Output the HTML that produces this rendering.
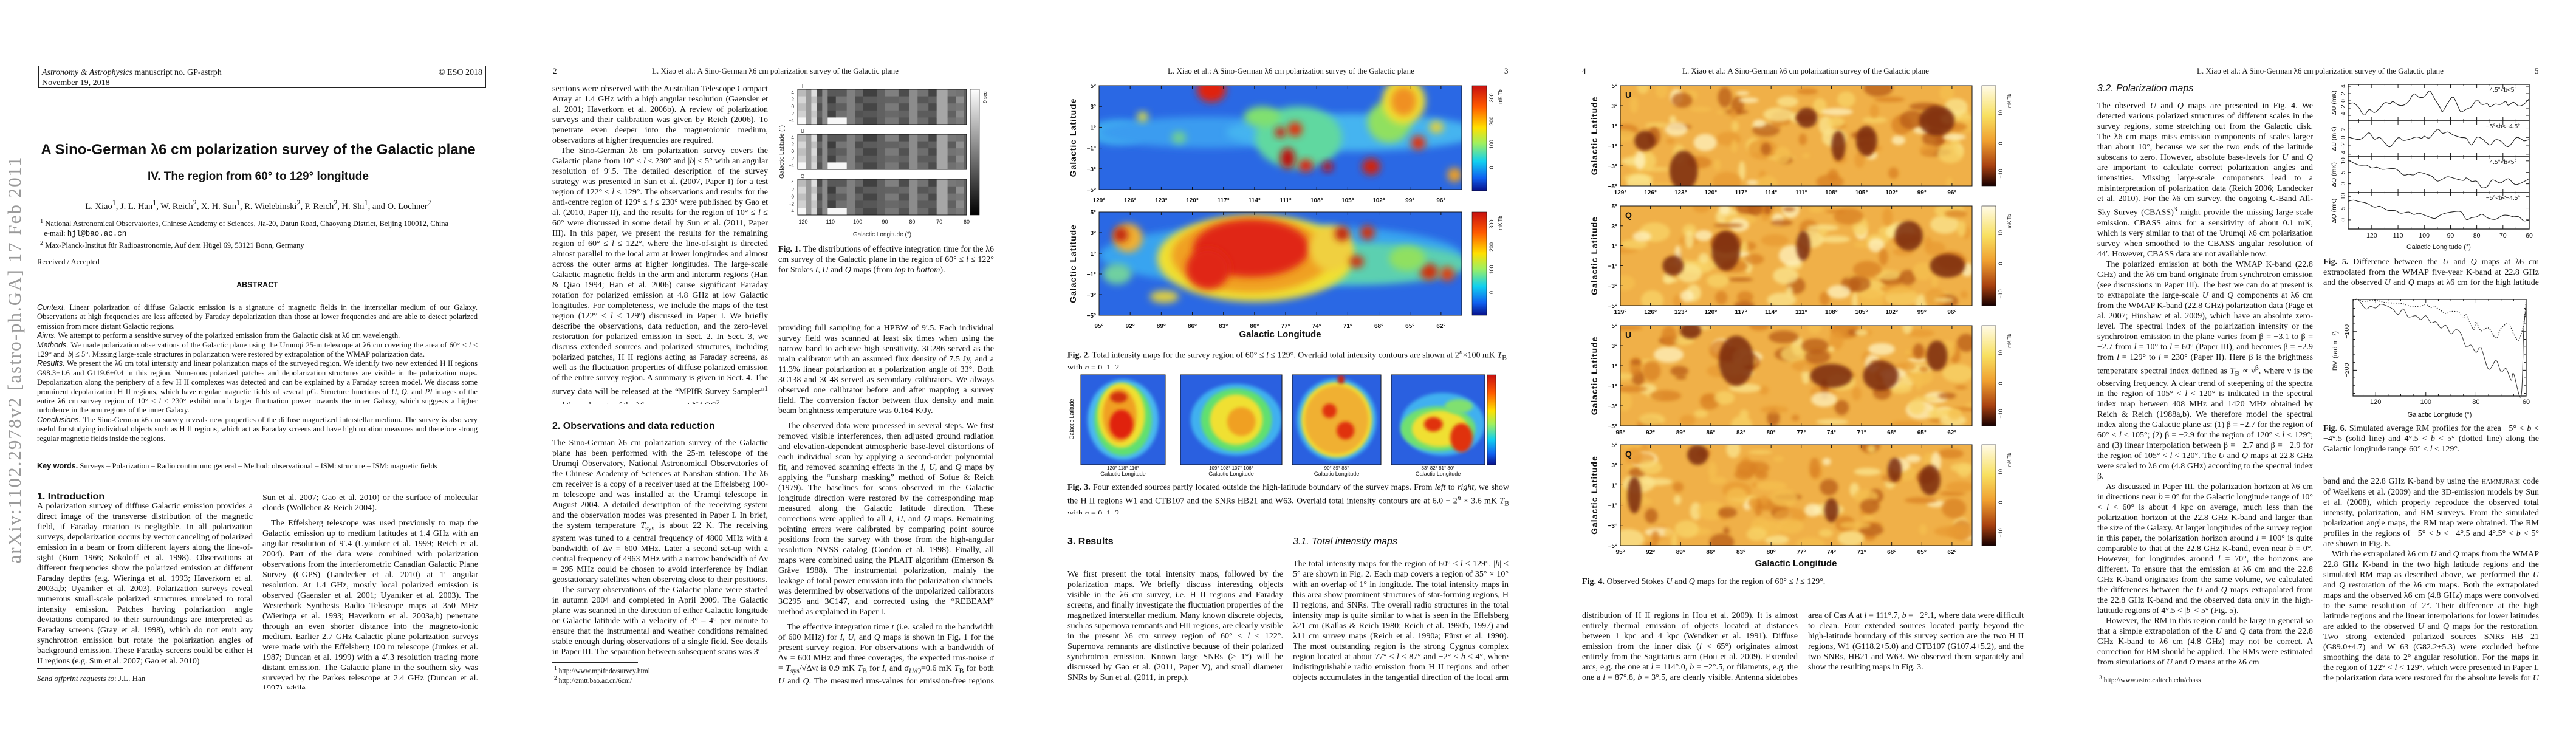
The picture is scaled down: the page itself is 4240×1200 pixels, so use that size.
<!DOCTYPE html>
<html><head><meta charset="utf-8">
<style>
html,body{margin:0;padding:0;background:#fff;}
body{width:4240px;height:1200px;position:relative;overflow:hidden;font-family:"Liberation Serif",serif;color:#111;}
.a{position:absolute;}
.col{position:absolute;font-size:14px;line-height:17px;text-align:justify;overflow:hidden;font-family:"Liberation Serif",serif;}
.col p{margin:0;text-indent:14px;}
.col p.ni{text-indent:0;}
.abs{position:absolute;font-size:12.6px;line-height:15.4px;text-align:justify;overflow:hidden;}
.abs p{margin:0;}
.run{position:absolute;font-size:13px;white-space:nowrap;}
.h1{position:absolute;font-family:"Liberation Sans",sans-serif;font-weight:bold;font-size:16px;white-space:nowrap;}
.h2{position:absolute;font-family:"Liberation Sans",sans-serif;font-style:italic;font-size:16px;white-space:nowrap;}
.cap{position:absolute;font-size:14px;line-height:17px;text-align:justify;overflow:hidden;}
.fn{position:absolute;font-size:11.5px;white-space:nowrap;}
.rule{position:absolute;height:1px;background:#222;}
svg text{font-family:"Liberation Sans",sans-serif;}
</style></head><body>
<svg id="gfx" class="a" style="left:0;top:0" width="4240" height="1200">
<defs>
<filter id="b3" x="-50%" y="-50%" width="200%" height="200%"><feGaussianBlur stdDeviation="3"/></filter>
<filter id="b6" x="-50%" y="-50%" width="200%" height="200%"><feGaussianBlur stdDeviation="6"/></filter>
<filter id="b10" x="-50%" y="-50%" width="200%" height="200%"><feGaussianBlur stdDeviation="10"/></filter>
<linearGradient id="jet" x1="0" y1="0" x2="0" y2="1">
<stop offset="0" stop-color="#c81010"/><stop offset="0.2" stop-color="#ff5a00"/><stop offset="0.4" stop-color="#ffe000"/><stop offset="0.55" stop-color="#9ef060"/><stop offset="0.72" stop-color="#10d0f0"/><stop offset="0.88" stop-color="#1060f0"/><stop offset="1" stop-color="#08108a"/></linearGradient>
<linearGradient id="heat" x1="0" y1="0" x2="0" y2="1">
<stop offset="0" stop-color="#fffbe8"/><stop offset="0.3" stop-color="#f8e060"/><stop offset="0.55" stop-color="#f0a030"/><stop offset="0.8" stop-color="#a84010"/><stop offset="1" stop-color="#180000"/></linearGradient>
<linearGradient id="gray" x1="0" y1="0" x2="0" y2="1"><stop offset="0" stop-color="#ffffff"/><stop offset="1" stop-color="#000000"/></linearGradient>
</defs>
</svg>

<!-- ================= PAGE 1 ================= -->
<div class="a" style="left:63px;top:108px;width:737px;height:37px;border:1px solid #222;font-size:14px;line-height:17px;padding:2px 5px;box-sizing:border-box;">
<div><i>Astronomy &amp; Astrophysics</i> manuscript no. GP-astrph<span style="float:right">© ESO 2018</span></div>
<div>November 19, 2018</div>
</div>
<div class="a" style="left:40px;top:233px;width:770px;text-align:center;font-family:'Liberation Sans',sans-serif;font-weight:bold;font-size:24px;white-space:nowrap;">A Sino-German λ6 cm polarization survey of the Galactic plane</div>
<div class="a" style="left:40px;top:280px;width:770px;text-align:center;font-family:'Liberation Sans',sans-serif;font-weight:bold;font-size:19px;white-space:nowrap;">IV. The region from 60° to 129° longitude</div>
<div class="a" style="left:40px;top:327px;width:770px;text-align:center;font-size:14.5px;white-space:nowrap;">L. Xiao<sup>1</sup>, J. L. Han<sup>1</sup>, W. Reich<sup>2</sup>, X. H. Sun<sup>1</sup>, R. Wielebinski<sup>2</sup>, P. Reich<sup>2</sup>, H. Shi<sup>1</sup>, and O. Lochner<sup>2</sup></div>
<div class="a" style="left:66px;top:357px;font-size:12.5px;line-height:15.5px;white-space:nowrap;">
<div><sup>1</sup> National Astronomical Observatories, Chinese Academy of Sciences, Jia-20, Datun Road, Chaoyang District, Beijing 100012, China</div>
<div>&nbsp;&nbsp;e-mail: <span style="font-family:'Liberation Mono',monospace">hjl@bao.ac.cn</span></div>
<div><sup>2</sup> Max-Planck-Institut für Radioastronomie, Auf dem Hügel 69, 53121 Bonn, Germany</div>
</div>
<div class="a" style="left:61px;top:424px;font-size:12.5px;">Received / Accepted</div>
<div class="a" style="left:61px;top:462px;width:725px;text-align:center;font-family:'Liberation Sans',sans-serif;font-weight:bold;font-size:12.5px;">ABSTRACT</div>
<div class="abs" style="left:61px;top:499px;width:725px;height:248px;">
<p><i style="font-family:'Liberation Sans',sans-serif">Context.</i> Linear polarization of diffuse Galactic emission is a signature of magnetic fields in the interstellar medium of our Galaxy. Observations at high frequencies are less affected by Faraday depolarization than those at lower frequencies and are able to detect polarized emission from more distant Galactic regions.</p>
<p><i style="font-family:'Liberation Sans',sans-serif">Aims.</i> We attempt to perform a sensitive survey of the polarized emission from the Galactic disk at λ6 cm wavelength.</p>
<p><i style="font-family:'Liberation Sans',sans-serif">Methods.</i> We made polarization observations of the Galactic plane using the Urumqi 25-m telescope at λ6 cm covering the area of 60° ≤ <i>l</i> ≤ 129° and |<i>b</i>| ≤ 5°. Missing large-scale structures in polarization were restored by extrapolation of the WMAP polarization data.</p>
<p><i style="font-family:'Liberation Sans',sans-serif">Results.</i> We present the λ6 cm total intensity and linear polarization maps of the surveyed region. We identify two new extended H II regions G98.3−1.6 and G119.6+0.4 in this region. Numerous polarized patches and depolarization structures are visible in the polarization maps. Depolarization along the periphery of a few H II complexes was detected and can be explained by a Faraday screen model. We discuss some prominent depolarization H II regions, which have regular magnetic fields of several μG. Structure functions of <i>U</i>, <i>Q</i>, and <i>PI</i> images of the entire λ6 cm survey region of 10° ≤ <i>l</i> ≤ 230° exhibit much larger fluctuation power towards the inner Galaxy, which suggests a higher turbulence in the arm regions of the inner Galaxy.</p>
<p><i style="font-family:'Liberation Sans',sans-serif">Conclusions.</i> The Sino-German λ6 cm survey reveals new properties of the diffuse magnetized interstellar medium. The survey is also very useful for studying individual objects such as H II regions, which act as Faraday screens and have high rotation measures and therefore strong regular magnetic fields inside the regions.</p>
</div>
<div class="a" style="left:61px;top:760px;font-size:12.6px;white-space:nowrap;"><b style="font-family:'Liberation Sans',sans-serif">Key words.</b> Surveys – Polarization – Radio continuum: general – Method: observational – ISM: structure – ISM: magnetic fields</div>
<div class="h1" style="left:61px;top:809px;">1. Introduction</div>
<div class="col" style="left:61px;top:825px;width:355px;height:272px;">
<p class="ni">A polarization survey of diffuse Galactic emission provides a direct image of the transverse distribution of the magnetic field, if Faraday rotation is negligible. In all polarization surveys, depolarization occurs by vector canceling of polarized emission in a beam or from different layers along the line-of-sight (Burn 1966; Sokoloff et al. 1998). Observations at different frequencies show the polarized emission at different Faraday depths (e.g. Wieringa et al. 1993; Haverkorn et al. 2003a,b; Uyanıker et al. 2003). Polarization surveys reveal numerous small-scale polarized structures unrelated to total intensity emission. Patches having polarization angle deviations compared to their surroundings are interpreted as Faraday screens (Gray et al. 1998), which do not emit any synchrotron emission but rotate the polarization angles of background emission. These Faraday screens could be either H II regions (e.g. Sun et al. 2007; Gao et al. 2010)</p>
</div>
<div class="rule" style="left:61px;top:1100px;width:141px;"></div>
<div class="a" style="left:61px;top:1109px;font-size:13px;"><i>Send offprint requests to</i>: J.L. Han</div>
<div class="col" style="left:432px;top:811px;width:355px;height:323px;">
<p class="ni">Sun et al. 2007; Gao et al. 2010) or the surface of molecular clouds (Wolleben &amp; Reich 2004).</p>
<p style="margin-top:8px">The Effelsberg telescope was used previously to map the Galactic emission up to medium latitudes at 1.4 GHz with an angular resolution of 9′.4 (Uyanıker et al. 1999; Reich et al. 2004). Part of the data were combined with polarization observations from the interferometric Canadian Galactic Plane Survey (CGPS) (Landecker et al. 2010) at 1′ angular resolution. At 1.4 GHz, mostly local polarized emission is observed (Gaensler et al. 2001; Uyanıker et al. 2003). The Westerbork Synthesis Radio Telescope maps at 350 MHz (Wieringa et al. 1993; Haverkorn et al. 2003a,b) penetrate through an even shorter distance into the magneto-ionic medium. Earlier 2.7 GHz Galactic plane polarization surveys were made with the Effelsberg 100 m telescope (Junkes et al. 1987; Duncan et al. 1999) with a 4′.3 resolution tracing more distant emission. The Galactic plane in the southern sky was surveyed by the Parkes telescope at 2.4 GHz (Duncan et al. 1997), while</p>
</div>
<div class="a" style="left:24px;top:592px;width:0;height:0;"><div style="position:absolute;left:0;top:0;transform:translate(-50%,-50%) rotate(-90deg);white-space:nowrap;font-size:31px;color:#9a9a9a;letter-spacing:2px;">arXiv:1102.2978v2 [astro-ph.GA] 17 Feb 2011</div></div>

<!-- ================= PAGE 2 ================= -->
<div class="run" style="left:910px;top:109px;">2</div>
<div class="run" style="left:1073px;top:109px;">L. Xiao et al.: A Sino-German λ6 cm polarization survey of the Galactic plane</div>
<div class="col" style="left:909px;top:138px;width:355px;height:527px;">
<p class="ni">sections were observed with the Australian Telescope Compact Array at 1.4 GHz with a high angular resolution (Gaensler et al. 2001; Haverkorn et al. 2006b). A review of polarization surveys and their calibration was given by Reich (2006). To penetrate even deeper into the magnetoionic medium, observations at higher frequencies are required.</p>
<p>The Sino-German λ6 cm polarization survey covers the Galactic plane from 10° ≤ <i>l</i> ≤ 230° and |<i>b</i>| ≤ 5° with an angular resolution of 9′.5. The detailed description of the survey strategy was presented in Sun et al. (2007, Paper I) for a test region of 122° ≤ <i>l</i> ≤ 129°. The observations and results for the anti-centre region of 129° ≤ <i>l</i> ≤ 230° were published by Gao et al. (2010, Paper II), and the results for the region of 10° ≤ <i>l</i> ≤ 60° were discussed in some detail by Sun et al. (2011, Paper III). In this paper, we present the results for the remaining region of 60° ≤ <i>l</i> ≤ 122°, where the line-of-sight is directed almost parallel to the local arm at lower longitudes and almost across the outer arms at higher longitudes. The large-scale Galactic magnetic fields in the arm and interarm regions (Han &amp; Qiao 1994; Han et al. 2006) cause significant Faraday rotation for polarized emission at 4.8 GHz at low Galactic longitudes. For completeness, we include the maps of the test region (122° ≤ <i>l</i> ≤ 129°) discussed in Paper I. We briefly describe the observations, data reduction, and the zero-level restoration for polarized emission in Sect. 2. In Sect. 3, we discuss extended sources and polarized structures, including polarized patches, H II regions acting as Faraday screens, as well as the fluctuation properties of diffuse polarized emission of the entire survey region. A summary is given in Sect. 4. The survey data will be released at the “MPIfR Survey Sampler”<sup>1</sup> and the web-page of the λ6 cm survey at NAOC<sup>2</sup>.</p>
</div>
<div class="h1" style="left:909px;top:693px;">2. Observations and data reduction</div>
<div class="col" style="left:909px;top:721px;width:355px;height:357px;">
<p class="ni">The Sino-German λ6 cm polarization survey of the Galactic plane has been performed with the 25-m telescope of the Urumqi Observatory, National Astronomical Observatories of the Chinese Academy of Sciences at Nanshan station. The λ6 cm receiver is a copy of a receiver used at the Effelsberg 100-m telescope and was installed at the Urumqi telescope in August 2004. A detailed description of the receiving system and the observation modes was presented in Paper I. In brief, the system temperature <i>T</i><sub>sys</sub> is about 22 K. The receiving system was tuned to a central frequency of 4800 MHz with a bandwidth of Δν = 600 MHz. Later a second set-up with a central frequency of 4963 MHz with a narrow bandwidth of Δν = 295 MHz could be chosen to avoid interference by Indian geostationary satellites when observing close to their positions.</p>
<p>The survey observations of the Galactic plane were started in autumn 2004 and completed in April 2009. The Galactic plane was scanned in the direction of either Galactic longitude or Galactic latitude with a velocity of 3° – 4° per minute to ensure that the instrumental and weather conditions remained stable enough during observations of a single field. See details in Paper III. The separation between subsequent scans was 3′</p>
</div>
<div class="rule" style="left:909px;top:1090px;width:141px;"></div>
<div class="fn" style="left:912px;top:1095px;"><sup>1</sup> http://www.mpifr.de/survey.html</div>
<div class="fn" style="left:912px;top:1111px;"><sup>2</sup> http://zmtt.bao.ac.cn/6cm/</div>
<div class="cap" style="left:1281px;top:402px;width:355px;height:52px;"><b>Fig. 1.</b> The distributions of effective integration time for the λ6 cm survey of the Galactic plane in the region of 60° ≤ <i>l</i> ≤ 122° for Stokes <i>I</i>, <i>U</i> and <i>Q</i> maps (from <i>top</i> to <i>bottom</i>).</div>
<div class="col" style="left:1281px;top:532px;width:355px;height:595px;">
<p class="ni">providing full sampling for a HPBW of 9′.5. Each individual survey field was scanned at least six times when using the narrow band to achieve high sensitivity. 3C286 served as the main calibrator with an assumed flux density of 7.5 Jy, and a 11.3% linear polarization at a polarization angle of 33°. Both 3C138 and 3C48 served as secondary calibrators. We always observed one calibrator before and after mapping a survey field. The conversion factor between flux density and main beam brightness temperature was 0.164 K/Jy.</p>
<p style="margin-top:8px">The observed data were processed in several steps. We first removed visible interferences, then adjusted ground radiation and elevation-dependent atmospheric base-level distortions of each individual scan by applying a second-order polynomial fit, and removed scanning effects in the <i>I</i>, <i>U</i>, and <i>Q</i> maps by applying the “unsharp masking” method of Sofue &amp; Reich (1979). The baselines for scans observed in the Galactic longitude direction were restored by the corresponding map measured along the Galactic latitude direction. These corrections were applied to all <i>I</i>, <i>U</i>, and <i>Q</i> maps. Remaining pointing errors were calibrated by comparing point source positions from the survey with those from the high-angular resolution NVSS catalog (Condon et al. 1998). Finally, all maps were combined using the PLAIT algorithm (Emerson &amp; Gräve 1988). The instrumental polarization, mainly the leakage of total power emission into the polarization channels, was determined by observations of the unpolarized calibrators 3C295 and 3C147, and corrected using the “REBEAM” method as explained in Paper I.</p>
<p style="margin-top:8px">The effective integration time <i>t</i> (i.e. scaled to the bandwidth of 600 MHz) for <i>I</i>, <i>U</i>, and <i>Q</i> maps is shown in Fig. 1 for the present survey region. For observations with a bandwidth of Δν = 600 MHz and three coverages, the expected rms-noise σ = <i>T</i><sub>sys</sub>/√Δν<i>t</i> is 0.9 mK <i>T</i><sub>B</sub> for <i>I</i>, and σ<sub><i>U/Q</i></sub>=0.6 mK <i>T</i><sub>B</sub> for both <i>U</i> and <i>Q</i>. The measured rms-values for emission-free regions in general agree with this estimate.</p>
</div>

<!-- ================= PAGE 3 ================= -->
<div class="run" style="left:1922px;top:109px;">L. Xiao et al.: A Sino-German λ6 cm polarization survey of the Galactic plane</div>
<div class="run" style="left:2476px;top:109px;">3</div>
<div class="cap" style="left:1757px;top:571px;width:727px;height:36px;text-align:left;"><b>Fig. 2.</b> Total intensity maps for the survey region of 60° ≤ <i>l</i> ≤ 129°. Overlaid total intensity contours are shown at 2<sup><i>n</i></sup>×100 mK <i>T</i><sub>B</sub> with <i>n</i> = 0, 1, 2, ….</div>
<div class="cap" style="left:1757px;top:794px;width:727px;height:52px;"><b>Fig. 3.</b> Four extended sources partly located outside the high-latitude boundary of the survey maps. From <i>left</i> to <i>right</i>, we show the H II regions W1 and CTB107 and the SNRs HB21 and W63. Overlaid total intensity contours are at 6.0 + 2<sup><i>n</i></sup> × 3.6 mK <i>T</i><sub>B</sub> with <i>n</i> = 0, 1, 2, ….</div>
<div class="h1" style="left:1757px;top:883px;">3. Results</div>
<div class="col" style="left:1757px;top:937px;width:355px;height:188px;">
<p class="ni">We first present the total intensity maps, followed by the polarization maps. We briefly discuss interesting objects visible in the λ6 cm survey, i.e. H II regions and Faraday screens, and finally investigate the fluctuation properties of the magnetized interstellar medium. Many known discrete objects, such as supernova remnants and HII regions, are clearly visible in the present λ6 cm survey region of 60° ≤ <i>l</i> ≤ 122°. Supernova remnants are distinctive because of their polarized synchrotron emission. Known large SNRs (&gt; 1°) will be discussed by Gao et al. (2011, Paper V), and small diameter SNRs by Sun et al. (2011, in prep.).</p>
</div>
<div class="h2" style="left:2128px;top:883px;">3.1. Total intensity maps</div>
<div class="col" style="left:2128px;top:920px;width:355px;height:205px;">
<p class="ni">The total intensity maps for the region of 60° ≤ <i>l</i> ≤ 129°, |<i>b</i>| ≤ 5° are shown in Fig. 2. Each map covers a region of 35° × 10° with an overlap of 1° in longitude. The total intensity maps in this area show prominent structures of star-forming regions, H II regions, and SNRs. The overall radio structures in the total intensity map is quite similar to what is seen in the Effelsberg λ21 cm (Kallas &amp; Reich 1980; Reich et al. 1990b, 1997) and λ11 cm survey maps (Reich et al. 1990a; Fürst et al. 1990). The most outstanding region is the strong Cygnus complex region located at about 77° &lt; <i>l</i> &lt; 87° and −2° &lt; <i>b</i> &lt; 4°, where indistinguishable radio emission from H II regions and other objects accumulates in the tangential direction of the local arm (see the</p>
</div>

<!-- ================= PAGE 4 ================= -->
<div class="run" style="left:2604px;top:109px;">4</div>
<div class="run" style="left:2769px;top:109px;">L. Xiao et al.: A Sino-German λ6 cm polarization survey of the Galactic plane</div>
<div class="cap" style="left:2604px;top:949px;width:727px;height:18px;"><b>Fig. 4.</b> Observed Stokes <i>U</i> and <i>Q</i> maps for the region of 60° ≤ <i>l</i> ≤ 129°.</div>
<div class="col" style="left:2604px;top:1005px;width:355px;height:120px;">
<p class="ni">distribution of H II regions in Hou et al. 2009). It is almost entirely thermal emission of objects located at distances between 1 kpc and 4 kpc (Wendker et al. 1991). Diffuse emission from the inner disk (<i>l</i> &lt; 65°) originates almost entirely from the Sagittarius arm (Hou et al. 2009). Extended arcs, e.g. the one at <i>l</i> = 114°.0, <i>b</i> = −2°.5, or filaments, e.g. the one a <i>l</i> = 87°.8, <i>b</i> = 3°.5, are clearly visible. Antenna sidelobes show up in the</p>
</div>
<div class="col" style="left:2976px;top:1005px;width:355px;height:102px;">
<p class="ni">area of Cas A at <i>l</i> = 111°.7, <i>b</i> = −2°.1, where data were difficult to clean. Four extended sources located partly beyond the high-latitude boundary of this survey section are the two H II regions, W1 (G118.2+5.0) and CTB107 (G107.4+5.2), and the two SNRs, HB21 and W63. We observed them separately and show the resulting maps in Fig. 3.</p>
</div>

<!-- ================= PAGE 5 ================= -->
<div class="run" style="left:3616px;top:109px;">L. Xiao et al.: A Sino-German λ6 cm polarization survey of the Galactic plane</div>
<div class="run" style="left:4172px;top:109px;">5</div>
<div class="h2" style="left:3452px;top:137px;">3.2. Polarization maps</div>
<div class="col" style="left:3452px;top:166px;width:355px;height:927px;">
<p class="ni">The observed <i>U</i> and <i>Q</i> maps are presented in Fig. 4. We detected various polarized structures of different scales in the survey regions, some stretching out from the Galactic disk. The λ6 cm maps miss emission components of scales larger than about 10°, because we set the two ends of the latitude subscans to zero. However, absolute base-levels for <i>U</i> and <i>Q</i> are important to calculate correct polarization angles and intensities. Missing large-scale components lead to a misinterpretation of polarization data (Reich 2006; Landecker et al. 2010). For the λ6 cm survey, the ongoing C-Band All- Sky Survey (CBASS)<sup>3</sup> might provide the missing large-scale emission. CBASS aims for a sensitivity of about 0.1 mK, which is very similar to that of the Urumqi λ6 cm polarization survey when smoothed to the CBASS angular resolution of 44′. However, CBASS data are not available now.</p>
<p>The polarized emission at both the WMAP K-band (22.8 GHz) and the λ6 cm band originate from synchrotron emission (see discussions in Paper III). The best we can do at present is to extrapolate the large-scale <i>U</i> and <i>Q</i> components at λ6 cm from the WMAP K-band (22.8 GHz) polarization data (Page et al. 2007; Hinshaw et al. 2009), which have an absolute zero-level. The spectral index of the polarization intensity or the synchrotron emission in the plane varies from β = −3.1 to β = −2.7 from <i>l</i> = 10° to <i>l</i> = 60° (Paper III), and becomes β = −2.9 from <i>l</i> = 129° to <i>l</i> = 230° (Paper II). Here β is the brightness temperature spectral index defined as <i>T</i><sub>B</sub> ∝ ν<sup>β</sup>, where ν is the observing frequency. A clear trend of steepening of the spectra in the region of 105° &lt; <i>l</i> &lt; 120° is indicated in the spectral index map between 408 MHz and 1420 MHz obtained by Reich &amp; Reich (1988a,b). We therefore model the spectral index along the Galactic plane as: (1) β = −2.7 for the region of 60° &lt; <i>l</i> &lt; 105°; (2) β = −2.9 for the region of 120° &lt; <i>l</i> &lt; 129°; and (3) linear interpolation between β = −2.7 and β = −2.9 for the region of 105° &lt; <i>l</i> &lt; 120°. The <i>U</i> and <i>Q</i> maps at 22.8 GHz were scaled to λ6 cm (4.8 GHz) according to the spectral index β.</p>
<p>As discussed in Paper III, the polarization horizon at λ6 cm in directions near <i>b</i> = 0° for the Galactic longitude range of 10° &lt; <i>l</i> &lt; 60° is about 4 kpc on average, much less than the polarization horizon at the 22.8 GHz K-band and larger than the size of the Galaxy. At larger longitudes of the survey region in this paper, the polarization horizon around <i>l</i> = 100° is quite comparable to that at the 22.8 GHz K-band, even near <i>b</i> = 0°. However, for longitudes around <i>l</i> = 70°, the horizons are different. To ensure that the emission at λ6 cm and the 22.8 GHz K-band originates from the same volume, we calculated the differences between the <i>U</i> and <i>Q</i> maps extrapolated from the 22.8 GHz K-band and the observed data only in the high-latitude regions of 4°.5 &lt; |<i>b</i>| &lt; 5° (Fig. 5).</p>
<p>However, the RM in this region could be large in general so that a simple extrapolation of the <i>U</i> and <i>Q</i> data from the 22.8 GHz K-band to λ6 cm (4.8 GHz) may not be correct. A correction for RM should be applied. The RMs were estimated from simulations of <i>U</i> and <i>Q</i> maps at the λ6 cm</p>
</div>
<div class="rule" style="left:3452px;top:1094px;width:141px;"></div>
<div class="fn" style="left:3455px;top:1110px;"><sup>3</sup> http://www.astro.caltech.edu/cbass</div>
<div class="cap" style="left:3824px;top:423px;width:355px;height:52px;"><b>Fig. 5.</b> Difference between the <i>U</i> and <i>Q</i> maps at λ6 cm extrapolated from the WMAP five-year K-band at 22.8 GHz and the observed <i>U</i> and <i>Q</i> maps at λ6 cm for the high latitude areas.</div>
<div class="cap" style="left:3824px;top:697px;width:355px;height:52px;"><b>Fig. 6.</b> Simulated average RM profiles for the area −5° &lt; <i>b</i> &lt; −4°.5 (solid line) and 4°.5 &lt; <i>b</i> &lt; 5° (dotted line) along the Galactic longitude range 60° &lt; <i>l</i> &lt; 129°.</div>
<div class="col" style="left:3824px;top:784px;width:355px;height:342px;">
<p class="ni">band and the 22.8 GHz K-band by using the <span style="font-size:10px">HAMMURABI</span> code of Waelkens et al. (2009) and the 3D-emission models by Sun et al. (2008), which properly reproduce the observed total intensity, polarization, and RM surveys. From the simulated polarization angle maps, the RM map were obtained. The RM profiles in the regions of −5° &lt; <i>b</i> &lt; −4°.5 and 4°.5° &lt; <i>b</i> &lt; 5° are shown in Fig. 6.</p>
<p>With the extrapolated λ6 cm <i>U</i> and <i>Q</i> maps from the WMAP 22.8 GHz K-band in the two high latitude regions and the simulated RM map as described above, we performed the <i>U</i> and <i>Q</i> restoration of the λ6 cm maps. Both the extrapolated maps and the observed λ6 cm (4.8 GHz) maps were convolved to the same resolution of 2°. Their difference at the high latitude regions and the linear interpolations for lower latitudes are added to the observed <i>U</i> and <i>Q</i> maps for the restoration. Two strong extended polarized sources SNRs HB 21 (G89.0+4.7) and W 63 (G82.2+5.3) were excluded before smoothing the data to 2° angular resolution. For the maps in the region of 122° &lt; <i>l</i> &lt; 129°, which were presented in Paper I, the polarization data were restored for the absolute levels for <i>U</i> and</p>
</div>

<script>
// ---------- Fig. 5 data (differences, mK) ----------
const lonU1=[129,127,125,123,121,119,117,115,113,112,110,108,106,104,102,100,98,96,94,93,91,89,87,86,84,82,80,78,76,75,73,71,69,68,66,64,62,60];
const dU1=[-0.9,-0.6,-1.8,-3.9,-2.4,-3.2,-2.0,-0.5,-0.8,-0.2,-1.1,-1.2,-0.2,1.9,1.0,1.1,2.7,0.5,-1.8,-2.9,-0.6,1.0,-1.8,-3.0,-2.3,-1.6,0.2,-1.0,-0.8,-1.6,-0.9,-1.0,-0.2,-1.2,-0.4,-1.4,-0.9,0.6];
const lonU2=[129,125,123,121,119,117,115,113,110,108,106,103,101,100,98,95,93,91,89,86,84,82,80,78,75,73,71,68,65,63,62,60];
const dU2=[0.1,-0.5,0.1,1.1,-0.4,0,-1.3,-2.2,-0.1,-0.7,-0.5,0.1,-0.2,0.3,-0.1,1.9,1.0,1.3,0.6,0,-0.2,-1.8,0,-0.3,-1.8,-0.6,-0.8,-2.2,-0.1,-0.4,-0.8,-0.5];
const lonQ1=[129,125,122,120,118,116,111,108,106,104,102,99,97,95,93,91,88,85,84,82,80,78,76,74,71,68,65,60];
const dQ1=[10.3,8.2,8.1,6.9,7.2,6.3,6.5,3.9,4.1,3.9,5.0,4.1,3.2,1.2,2.1,3.1,2.2,1.5,2.6,1.1,1.1,-1.6,-1.1,1.7,0.4,2.2,-0.3,2.2];
const lonQ2=[129,127,125,122,119,117,114,111,109,106,104,102,99,96,94,92,89,86,84,82,80,78,76,73,70,68,66,64,62,60];
const dQ2=[7.9,8.4,7.8,7.1,5.4,5.8,4.1,3.9,2.8,3.3,2.3,2.8,1.6,0.6,2.0,2.8,3.4,3.4,0.2,0.9,1.3,2.4,0.9,0.2,1.9,1.9,1.3,1.3,-0.4,0];
const fig5Labels=['4.5°<b<5°','−5°<b<−4.5°','4.5°<b<5°','−5°<b<−4.5°'];
const fig5YTicks=[[4,2,0,-2,-4],[2,0,-2,-4],[10,5,0],[10,5,0]];
const fig5XTicks=[120,110,100,90,80,70,60];
// ---------- Fig. 6 data (RM, rad m^-2) ----------
const lonS=[129,127,124,122,120,118,115,113,111,109,107,104,102,100,98,96,94,92,90,88,86,84,82,80,78,75,72,70,68,66,65,62,61,60];
const rmS=[-19,-17,-41,-35,-39,-29,-35,-43,-56,-41,-62,-59,-69,-59,-77,-75,-91,-84,-106,-95,-105,-139,-135,-154,-142,-197,-175,-204,-196,-226,-209,-267,-96,-38];
const lonD=[129,127,125,120,116,110,106,102,100,98,97,95,92,90,87,85,84,81,80,78,75,72,70,67,65,63,61,60];
const rmD=[-19,-17,-22,-19,-25,-27,-34,-34,-30,-38,-34,-41,-53,-48,-50,-65,-56,-95,-75,-98,-91,-117,-91,-80,-106,-122,-80,-17];
const fig6YTicks=[-100,-200];
const fig6XTicks=[120,100,80,60];
// ---------- Map tick labels ----------
const latTicks=[5,3,1,-1,-3,-5];
const lonTicksA=[129,126,123,120,117,114,111,108,105,102,99,96];
const lonTicksB=[95,92,89,86,83,80,77,74,71,68,65,62];

const NS='http://www.w3.org/2000/svg';
const svg=document.getElementById('gfx');
function mk(tag,attrs,parent,name){
  const el=document.createElementNS(NS,tag);
  for(const k in attrs) el.setAttribute(k,attrs[k]);
  
  
  (parent||svg).appendChild(el);
  return el;
}
function txt(x,y,s,size,parent,name,anchor,rot,extra){
  const t=mk('text',Object.assign({x:x,y:y,'font-size':size,'text-anchor':anchor||'middle',fill:'#111'},extra||{}),parent,name);
  if(rot) t.setAttribute('transform','rotate('+rot+' '+x+' '+y+')');
  t.textContent=s;
  return t;
}
function smoothPath(pts){
  let d='M'+pts[0][0].toFixed(1)+','+pts[0][1].toFixed(1);
  for(let i=0;i<pts.length-1;i++){
    const p0=pts[Math.max(0,i-1)],p1=pts[i],p2=pts[i+1],p3=pts[Math.min(pts.length-1,i+2)];
    const c1=[p1[0]+(p2[0]-p0[0])/6,p1[1]+(p2[1]-p0[1])/6];
    const c2=[p2[0]-(p3[0]-p1[0])/6,p2[1]-(p3[1]-p1[1])/6];
    d+=' C'+c1[0].toFixed(1)+','+c1[1].toFixed(1)+' '+c2[0].toFixed(1)+','+c2[1].toFixed(1)+' '+p2[0].toFixed(1)+','+p2[1].toFixed(1);
  }
  return d;
}

// ===== Fig 5 =====
(function(){
  const g=mk('g',{},svg,'fig5-difference-profiles');
  const x0=3865,x1=4163;
  const xS=l=>x0+(129-l)/69*(x1-x0);
  const panels=[[139,199,-5.5,4.5,lonU1,dU1,'ΔU (mK)'],[199,258,-4.6,3.95,lonU2,dU2,'ΔU (mK)'],[258,317,-3.8,11.8,lonQ1,dQ1,'ΔQ (mK)'],[317,377,-3.9,11.6,lonQ2,dQ2,'ΔQ (mK)']];
  panels.forEach((p,i)=>{
    const [top,bot,vmin,vmax,lons,vals,lab]=p;
    const yS=v=>bot-(v-vmin)/(vmax-vmin)*(bot-top);
    const pg=mk('g',{},g,'fig5-panel-'+(i+1));
    mk('rect',{x:x0,y:top,width:x1-x0,height:bot-top,fill:'none',stroke:'#111','stroke-width':1.3},pg,'fig5-panel-frame');
    for(let l=125;l>=60;l-=5){const x=xS(l);const len=(l%10===0)?6:3;
      mk('line',{x1:x,y1:top,x2:x,y2:top+len,stroke:'#111'},pg,'fig5-x-tick');
      mk('line',{x1:x,y1:bot,x2:x,y2:bot-len,stroke:'#111'},pg,'fig5-x-tick');}
    fig5YTicks[i].forEach(v=>{const y=yS(v);
      mk('line',{x1:x0,y1:y,x2:x0+5,y2:y,stroke:'#111'},pg,'fig5-y-tick');
      mk('line',{x1:x1,y1:y,x2:x1-5,y2:y,stroke:'#111'},pg,'fig5-y-tick');
      txt(x0-5,y,String(v).replace('-','−'),10,pg,'fig5-y-tick-label','middle',-90);});
    txt(x0-20,(top+bot)/2,lab,10.5,pg,'fig5-y-axis-title','middle',-90);
    txt(x0+255,top+12,fig5Labels[i],10,pg,'fig5-panel-label');
    const pts=lons.map((l,k)=>[xS(l),yS(vals[k])]);
    mk('path',{d:smoothPath(pts),fill:'none',stroke:'#222','stroke-width':1.1},pg,'fig5-profile-line');
  });
  fig5XTicks.forEach(l=>txt(xS(l),391,String(l),10.5,g,'fig5-x-tick-label'));
  txt((x0+x1)/2,410,'Galactic Longitude (°)',11,g,'fig5-x-axis-title');
})();

// ===== Fig 6 =====
(function(){
  const g=mk('g',{},svg,'fig6-rm-profiles');
  const x0=3873,x1=4158,top=493,bot=652,vmin=-267,vmax=-17;
  const xS=l=>x0+(129-l)/69*(x1-x0);
  const yS=v=>bot-(v-vmin)/(vmax-vmin)*(bot-top);
  mk('rect',{x:x0,y:top,width:x1-x0,height:bot-top,fill:'none',stroke:'#111','stroke-width':1.2},g,'fig6-frame');
  for(let l=125;l>=60;l-=5){const x=xS(l);const len=(l%20===0)?6:3;
    mk('line',{x1:x,y1:top,x2:x,y2:top+len,stroke:'#111'},g,'fig6-x-tick');
    mk('line',{x1:x,y1:bot,x2:x,y2:bot-len,stroke:'#111'},g,'fig6-x-tick');}
  for(let v=-40;v>=-260;v-=20){const y=yS(v);const len=(v%100===0)?6:3;
    mk('line',{x1:x0,y1:y,x2:x0+len,y2:y,stroke:'#111'},g,'fig6-y-tick');
    mk('line',{x1:x1,y1:y,x2:x1-len,y2:y,stroke:'#111'},g,'fig6-y-tick');}
  fig6YTicks.forEach(v=>txt(x0-7,yS(v),String(v).replace('-','−'),10.5,g,'fig6-y-tick-label','middle',-90));
  txt(x0-26,yS(-150),'RM (rad m⁻²)',11,g,'fig6-y-axis-title','middle',-90,{'font-family':'Liberation Mono, monospace'});
  fig6XTicks.forEach(l=>txt(xS(l),665,String(l),11,g,'fig6-x-tick-label','middle',0,{'font-family':'Liberation Mono, monospace'}));
  txt((x0+x1)/2,686,'Galactic Longitude (°)',11,g,'fig6-x-axis-title','middle',0,{'font-family':'Liberation Mono, monospace'});
  mk('path',{d:smoothPath(lonS.map((l,k)=>[xS(l),yS(rmS[k])])),fill:'none',stroke:'#333','stroke-width':1},g,'fig6-solid-line');
  mk('path',{d:smoothPath(lonD.map((l,k)=>[xS(l),yS(rmD[k])])),fill:'none',stroke:'#222','stroke-width':1.4,'stroke-dasharray':'1.5,2.5'},g,'fig6-dotted-line');
})();

// ===== deterministic texture generator =====
let seed=12345;
function rnd(){seed=(seed*16807)%2147483647;return seed/2147483647;}

// ===== Fig 2 total intensity maps =====
function mapFrame(g,x,y,w,h,ticks,labY,nameP){
  latTicks.forEach(b=>{const yy=y+(5-b)/10*h;
    txt(x-5,yy+4,(b<0?'−':'')+Math.abs(b)+'°',10,g,nameP+'-lat-label','end',0,{'font-weight':'bold'});
    mk('line',{x1:x,y1:yy,x2:x+5,y2:yy,stroke:'#111'},g,nameP+'-lat-tick');});
  ticks.forEach((l,i)=>{const xx=x+i*3/35*w;
    txt(xx,labY,l+'°',10,g,nameP+'-lon-label','middle',0,{'font-weight':'bold'});
    mk('line',{x1:xx,y1:y,x2:xx,y2:y+5,stroke:'#111'},g,nameP+'-lon-tick');
    mk('line',{x1:xx,y1:y+h,x2:xx,y2:y+h-5,stroke:'#111'},g,nameP+'-lon-tick');});
  txt(x-38,y+h/2,'Galactic  Latitude',14,g,nameP+'-y-axis-title','middle',-90,{'font-weight':'bold','letter-spacing':'1'});
  mk('rect',{x:x,y:y,width:w,height:h,fill:'none',stroke:'#111'},g,nameP+'-frame');
}
const blobsI1=[[0.05,0.45,0.08,0.12,'#40b0f0'],[0.3,0.45,0.3,0.15,'#3a9cf0'],[0.7,0.45,0.35,0.18,'#45b4f0'],[0.55,0.5,0.12,0.3,'#60d8a0'],[0.45,0.3,0.05,0.1,'#80e070'],[0.8,0.35,0.06,0.2,'#90e060'],[0.84,0.15,0.06,0.22,'#f0e030'],[0.84,0.15,0.035,0.14,'#f09020'],[0.31,0.04,0.04,0.12,'#e02010'],[0.52,0.7,0.02,0.1,'#c01010'],[0.5,0.45,0.015,0.05,'#d02010'],[0.54,0.42,0.02,0.07,'#e03010'],[0.88,0.55,0.02,0.07,'#e03010'],[0.75,0.78,0.025,0.08,'#d02010'],[0.63,0.78,0.015,0.05,'#c01010'],[0.57,0.77,0.02,0.06,'#e02010'],[0.98,0.86,0.02,0.07,'#f0a020'],[0.12,0.3,0.015,0.05,'#e0e040'],[0.22,0.5,0.02,0.06,'#70d090'],[0.93,0.4,0.02,0.06,'#e0d040']];
const blobsI2=[[0.5,0.42,0.5,0.3,'#38a4f0'],[0.72,0.5,0.3,0.2,'#5cd0b0'],[0.43,0.45,0.27,0.42,'#f0e030'],[0.42,0.42,0.22,0.36,'#f0a020'],[0.42,0.35,0.16,0.28,'#e02818'],[0.3,0.55,0.06,0.2,'#e02818'],[0.64,0.35,0.06,0.22,'#f0d040'],[0.08,0.25,0.04,0.14,'#f0b030'],[0.06,0.22,0.02,0.07,'#c02010'],[0.67,0.21,0.02,0.07,'#c02010'],[0.74,0.2,0.02,0.07,'#d03010'],[0.71,0.48,0.02,0.06,'#d03010'],[0.91,0.58,0.025,0.08,'#d03010'],[0.96,0.6,0.02,0.07,'#e04010'],[0.85,0.45,0.05,0.12,'#90e060'],[0.18,0.82,0.04,0.06,'#e0d040'],[0.05,0.6,0.04,0.1,'#70d0a0']];
function drawJetMap(x,y,w,h,blobs,ticks,labY,name){
  const g=mk('g',{},svg,name);
  const cid=name+'-clip';
  const cp=mk('clipPath',{id:cid},g,name+'-clip');
  mk('rect',{x:x,y:y,width:w,height:h},cp,name+'-clip-rect');
  const inner=mk('g',{'clip-path':'url(#'+cid+')'},g,name+'-image');
  mk('rect',{x:x,y:y,width:w,height:h,fill:'#2a68e4'},inner,name+'-background');
  blobs.forEach(b=>{mk('ellipse',{cx:x+b[0]*w,cy:y+b[1]*h,rx:b[2]*w,ry:b[3]*h,fill:b[4],filter:'url(#b6)'},inner,name+'-emission-blob');});
  mapFrame(g,x,y,w,h,ticks,labY,name);
}
drawJetMap(1809,141,597,171,blobsI1,lonTicksA,333,'fig2-map-upper');
drawJetMap(1809,349,597,170,blobsI2,lonTicksB,540,'fig2-map-lower');
[[141,173],[349,170]].forEach((c,i)=>{
  mk('rect',{x:2423,y:c[0],width:24,height:c[1],fill:'url(#jet)',stroke:'#111','stroke-width':0.6},svg,'fig2-colorbar');
  ['300','200','100','0'].forEach((s,k)=>txt(2458,c[0]+20+k*(c[1]-35)/3.6,s,9,svg,'fig2-colorbar-label','middle',-90));
  txt(2472,c[0]+18,'mK Tb',8,svg,'fig2-colorbar-unit','middle',-90);
});
txt(2107,555,'Galactic  Longitude',15,svg,'fig2-x-axis-title','middle',0,{'font-weight':'bold'});

// ===== Fig 3 source panels =====
const fig3Panels=[[1779,139,[[0.5,0.5,0.42,0.45,'#4ab8f0'],[0.5,0.5,0.34,0.4,'#60e070'],[0.48,0.45,0.28,0.36,'#f0e030'],[0.46,0.45,0.2,0.3,'#f0a020'],[0.48,0.55,0.14,0.16,'#e02010'],[0.45,0.25,0.1,0.06,'#d03010']],'120°   118°   116°'],
 [1943,167,[[0.55,0.5,0.45,0.4,'#40b0f0'],[0.55,0.5,0.35,0.35,'#60e070'],[0.55,0.5,0.26,0.28,'#f0e030'],[0.6,0.52,0.14,0.16,'#f0a020']],'109°   108°   107°   106°'],
 [2127,146,[[0.5,0.5,0.45,0.46,'#40b0f0'],[0.5,0.5,0.4,0.42,'#f0e030'],[0.5,0.5,0.36,0.38,'#f0b030'],[0.42,0.4,0.08,0.08,'#e03010'],[0.6,0.62,0.1,0.1,'#e03010'],[0.55,0.05,0.04,0.05,'#d02010']],'90°   89°   88°'],
 [2290,154,[[0.55,0.55,0.45,0.35,'#40b0f0'],[0.5,0.6,0.4,0.25,'#70e070'],[0.52,0.6,0.3,0.2,'#f0e030'],[0.45,0.55,0.1,0.08,'#e03010'],[0.75,0.7,0.12,0.16,'#e03010'],[0.72,0.35,0.15,0.08,'#80e070']],'83°   82°   81°   80°']];
fig3Panels.forEach((p,i)=>{
  const [x,w,blobs,lab]=p;const y=617,h=148;
  const name='fig3-panel-'+(i+1);
  const g=mk('g',{},svg,name);
  const cp=mk('clipPath',{id:name+'-clip'},g,name+'-clip');
  mk('rect',{x:x,y:y,width:w,height:h},cp,name+'-clip-rect');
  const inner=mk('g',{'clip-path':'url(#'+name+'-clip)'},g,name+'-image');
  mk('rect',{x:x,y:y,width:w,height:h,fill:'#2a60e0'},inner,name+'-background');
  blobs.forEach(b=>mk('ellipse',{cx:x+b[0]*w,cy:y+b[1]*h,rx:b[2]*w,ry:b[3]*h,fill:b[4],filter:'url(#b3)'},inner,name+'-emission-blob'));
  mk('rect',{x:x,y:y,width:w,height:h,fill:'none',stroke:'#111'},g,name+'-frame');
  txt(x+w/2,773,lab,8,g,name+'-lon-labels');
  txt(x+w/2,783,'Galactic Longitude',9,g,name+'-x-axis-title');
});
mk('rect',{x:2448,y:617,width:14,height:148,fill:'url(#jet)',stroke:'#111','stroke-width':0.5},svg,'fig3-colorbar');
txt(1767,690,'Galactic Latitude',9,svg,'fig3-y-axis-title','middle',-90);

// ===== Fig 4 polarization maps =====
const fig4Maps=[[141,165,'U',lonTicksA,320],[339,164,'Q',lonTicksA,517],[536,165,'U',lonTicksB,715],[732,166,'Q',lonTicksB,912]];
const warm=['#f8d468','#fbe690','#fff3c0','#e89a30','#d98020','#f5c050','#b85c18'];
const darkSpots=[[[0.07,0.55,0.03,0.1],[0.7,0.55,0.03,0.15],[0.18,0.85,0.04,0.2],[0.53,0.32,0.03,0.1],[0.9,0.35,0.05,0.15],[0.62,0.6,0.02,0.15]],
 [[0.3,0.45,0.04,0.2],[0.52,0.4,0.02,0.15],[0.82,0.3,0.04,0.15],[0.93,0.6,0.05,0.12],[0.15,0.6,0.03,0.1]],
 [[0.2,0.05,0.03,0.08],[0.33,0.35,0.05,0.25],[0.6,0.5,0.06,0.12],[0.74,0.5,0.05,0.15],[0.9,0.3,0.03,0.15]],
 [[0.04,0.5,0.02,0.18],[0.22,0.1,0.03,0.1],[0.78,0.25,0.02,0.12],[0.88,0.35,0.03,0.15],[0.6,0.65,0.02,0.12]]];
fig4Maps.forEach((m,i)=>{
  const [y,h,lab,ticks,labY]=m;const x=2667,w=579;
  const name='fig4-map-'+(i+1);
  const g=mk('g',{},svg,name);
  const cp=mk('clipPath',{id:name+'-clip'},g,name+'-clip');
  mk('rect',{x:x,y:y,width:w,height:h},cp,name+'-clip-rect');
  const inner=mk('g',{'clip-path':'url(#'+name+'-clip)'},g,name+'-image');
  mk('rect',{x:x,y:y,width:w,height:h,fill:'#f0b048'},inner,name+'-background');
  for(let k=0;k<110;k++){
    const cx=x+rnd()*w,cy=y+rnd()*h,rx=5+rnd()*22,ry=3+rnd()*14,c=warm[Math.floor(rnd()*warm.length)];
    mk('ellipse',{cx:cx,cy:cy,rx:rx,ry:ry,fill:c,opacity:0.75,filter:'url(#b3)'},inner,name+'-texture-patch');
  }
  darkSpots[i].forEach(s=>mk('ellipse',{cx:x+s[0]*w,cy:y+s[1]*h,rx:s[2]*w,ry:s[3]*h,fill:'#7a2a08',opacity:0.85,filter:'url(#b3)'},inner,name+'-dark-structure'));
  mapFrame(g,x,y,w,h,ticks,labY,name);
  txt(x+8,y+20,lab,14,g,name+'-stokes-label','start',0,{'font-weight':'bold','font-family':'Liberation Serif, serif'});
  mk('rect',{x:3262,y:y,width:23,height:h,fill:'url(#heat)',stroke:'#111','stroke-width':0.6},svg,'fig4-colorbar');
  ['10','0','−10'].forEach((s,k)=>txt(3296,y+45+k*50,s,9,svg,'fig4-colorbar-label','middle',-90));
  txt(3310,y+25,'mK Tb',8,svg,'fig4-colorbar-unit','middle',-90);
});
txt(2956,932,'Galactic  Longitude',15,svg,'fig4-x-axis-title','middle',0,{'font-weight':'bold'});

// ===== Fig 1 integration time maps =====
const fig1Cols=[[122,119,0.78],[119,117,0.6],[117,115,0.82],[115,113,0.35],[113,111,0.55],[111,108,0.3],[108,104,0.4],[104,101,0.5],[101,98,0.36],[98,93,0.3],[93,90,0.38],[90,85,0.45],[85,81,0.35],[81,78,0.55],[78,74,0.4],[74,71,0.32],[71,67,0.65],[67,64,0.42],[64,61,0.5],[61,60,0.38]];
const fig1RowMod=[0.05,-0.06,0.03,-0.04,0.02];
const fig1Panels=[[147,205,'I'],[221,279,'U'],[295,354,'Q']];
(function(){
  const g=mk('g',{},svg,'fig1-integration-time');
  const x0=1313,x1=1591;
  const xS=l=>x0+(122-l)/62*(x1-x0);
  fig1Panels.forEach((p,pi)=>{
    const [top,bot,lab]=p;const rh=(bot-top)/5;
    const pg=mk('g',{},g,'fig1-panel-'+lab);
    fig1Cols.forEach((c,ci)=>{
      fig1RowMod.forEach((m,ri)=>{
        let v=Math.max(0,Math.min(1,c[2]+m*((ci%3)-1)));
        if(ri===4&&(ci===0||ci===5||ci===6)) v=0.97;
        const gv=Math.round(v*255);
        mk('rect',{x:xS(c[0]),y:top+ri*rh,width:xS(c[1])-xS(c[0])+0.5,height:rh+0.5,fill:'rgb('+gv+','+gv+','+gv+')'},pg,'fig1-cell');
      });
    });
    mk('rect',{x:x0,y:top,width:x1-x0,height:bot-top,fill:'none',stroke:'#111'},pg,'fig1-panel-frame');
    txt(x0+8,top-2,lab,8,pg,'fig1-panel-label');
    [4,2,0,-2,-4].forEach((b,k)=>txt(x0-6,top+5+k*rh+3,String(b).replace('-','−'),8,pg,'fig1-lat-label','end'));
  });
  [120,110,100,90,80,70,60].forEach(l=>txt(xS(l),368,String(l),9,g,'fig1-lon-label'));
  txt(1452,389,'Galactic Longitude (°)',10,g,'fig1-x-axis-title');
  txt(1290,250,'Galactic Latitude (°)',10,g,'fig1-y-axis-title','middle',-90);
  mk('rect',{x:1597,y:147,width:15,height:207,fill:'url(#gray)',stroke:'#111','stroke-width':0.6},g,'fig1-colorbar');
  txt(1624,160,'9 sec',8,g,'fig1-colorbar-unit','middle',-90);
})();
</script>
</body></html>
